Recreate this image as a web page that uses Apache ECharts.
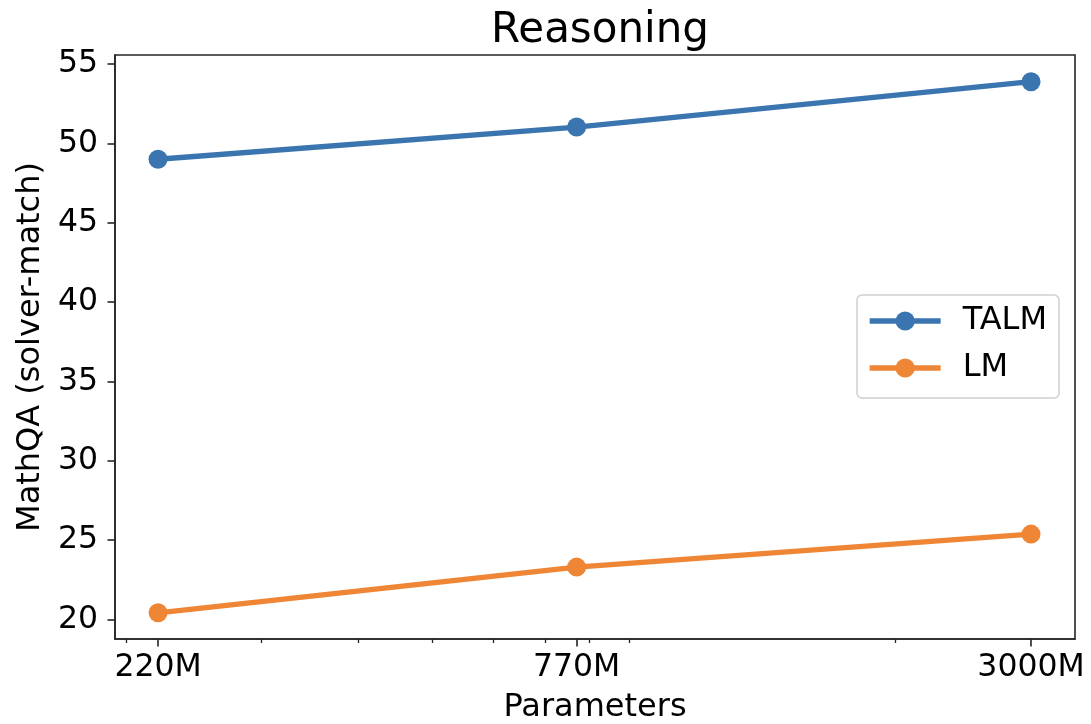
<!DOCTYPE html>
<html><head><meta charset="utf-8">
<script src="https://cdn.jsdelivr.net/npm/echarts@6/dist/echarts.min.js"></script>
<style>html,body{margin:0;padding:0;background:#fff}#c{width:1091px;height:724px}</style>
</head><body><div id="c"></div>
<script>
const params = [220, 770, 3000];
const tickLabels = ['220M', '770M', '3000M'];
const minorTicks = [200, 300, 400, 500, 600, 700, 800, 900, 2000];
const talm = [49.0, 51.03, 53.89];
const lm = [20.42, 23.3, 25.38];
const yTicks = [20, 25, 30, 35, 40, 45, 50, 55];

const font = 'DejaVu Sans';
const chart = echarts.init(document.getElementById('c'), null, {renderer: 'canvas'});
const mk = (vals) => params.map((p, i) => [p, vals[i]]);
const xmin = 193.4, xmax = 3422;
chart.setOption({
  animation: false,
  backgroundColor: '#fff',
  title: {text: 'Reasoning', left: 595, top: 5, textAlign: 'center',
    textStyle: {fontFamily: font, fontSize: 42, fontWeight: 'normal', color: '#000'}},
  grid: {left: 115, top: 55, right: 16, bottom: 85, show: true, borderColor: '#262626', borderWidth: 1.6,
    containLabel: false, outerBoundsMode: 'none'},
  legend: {
    data: ['TALM', 'LM'], orient: 'vertical', left: 857, top: 295,
    padding: [10, 12, 14, 10], itemGap: 15,
    itemWidth: 71, itemHeight: 24,
    lineStyle: {width: 5.3},
    borderColor: '#d0d0d0', borderWidth: 1.5, borderRadius: 5, backgroundColor: '#fff',
    textStyle: {fontFamily: font, fontSize: 32, color: '#000', padding: [0, 0, 0, 17]}
  },
  xAxis: [{
    type: 'log', min: xmin, max: xmax, logBase: 10,
    name: 'Parameters', nameLocation: 'middle', nameGap: 53,
    nameTextStyle: {fontFamily: font, fontSize: 32, color: '#000'},
    axisLine: {lineStyle: {color: '#262626', width: 1.6}},
    axisTick: {length: 7.5, inside: false, lineStyle: {color: '#262626', width: 1.6}, customValues: params},
    axisLabel: {fontFamily: font, fontSize: 31.5, color: '#000', margin: 13, customValues: params,
      formatter: (v) => { const i = params.indexOf(Math.round(v)); return i >= 0 ? tickLabels[i] : ''; }},
    splitLine: {show: false}, minorTick: {show: false}
  }, {
    type: 'log', min: xmin, max: xmax, logBase: 10, position: 'bottom',
    axisLine: {show: false},
    axisTick: {length: 4, lineStyle: {color: '#262626', width: 1.3}, customValues: minorTicks},
    axisLabel: {show: false, customValues: minorTicks},
    splitLine: {show: false}
  }],
  yAxis: {
    type: 'value', min: 18.77, max: 55.57,
    name: 'MathQA (solver-match)', nameLocation: 'middle', nameGap: 66,
    nameTextStyle: {fontFamily: font, fontSize: 32, color: '#000'},
    axisLine: {show: true, lineStyle: {color: '#262626', width: 1.6}},
    axisTick: {show: true, length: 7.5, lineStyle: {color: '#262626', width: 1.6}, customValues: yTicks},
    axisLabel: {fontFamily: font, fontSize: 31.5, color: '#000', margin: 17, customValues: yTicks},
    splitLine: {show: false}
  },
  series: [
    {name: 'TALM', type: 'line', data: mk(talm), xAxisIndex: 0, color: '#3a75b0',
      lineStyle: {width: 5.3}, symbol: 'circle', symbolSize: 19, itemStyle: {color: '#3a75b0'}},
    {name: 'LM', type: 'line', data: mk(lm), xAxisIndex: 0, color: '#ef8636',
      lineStyle: {width: 5.3}, symbol: 'circle', symbolSize: 19, itemStyle: {color: '#ef8636'}}
  ]
});
</script></body></html>
